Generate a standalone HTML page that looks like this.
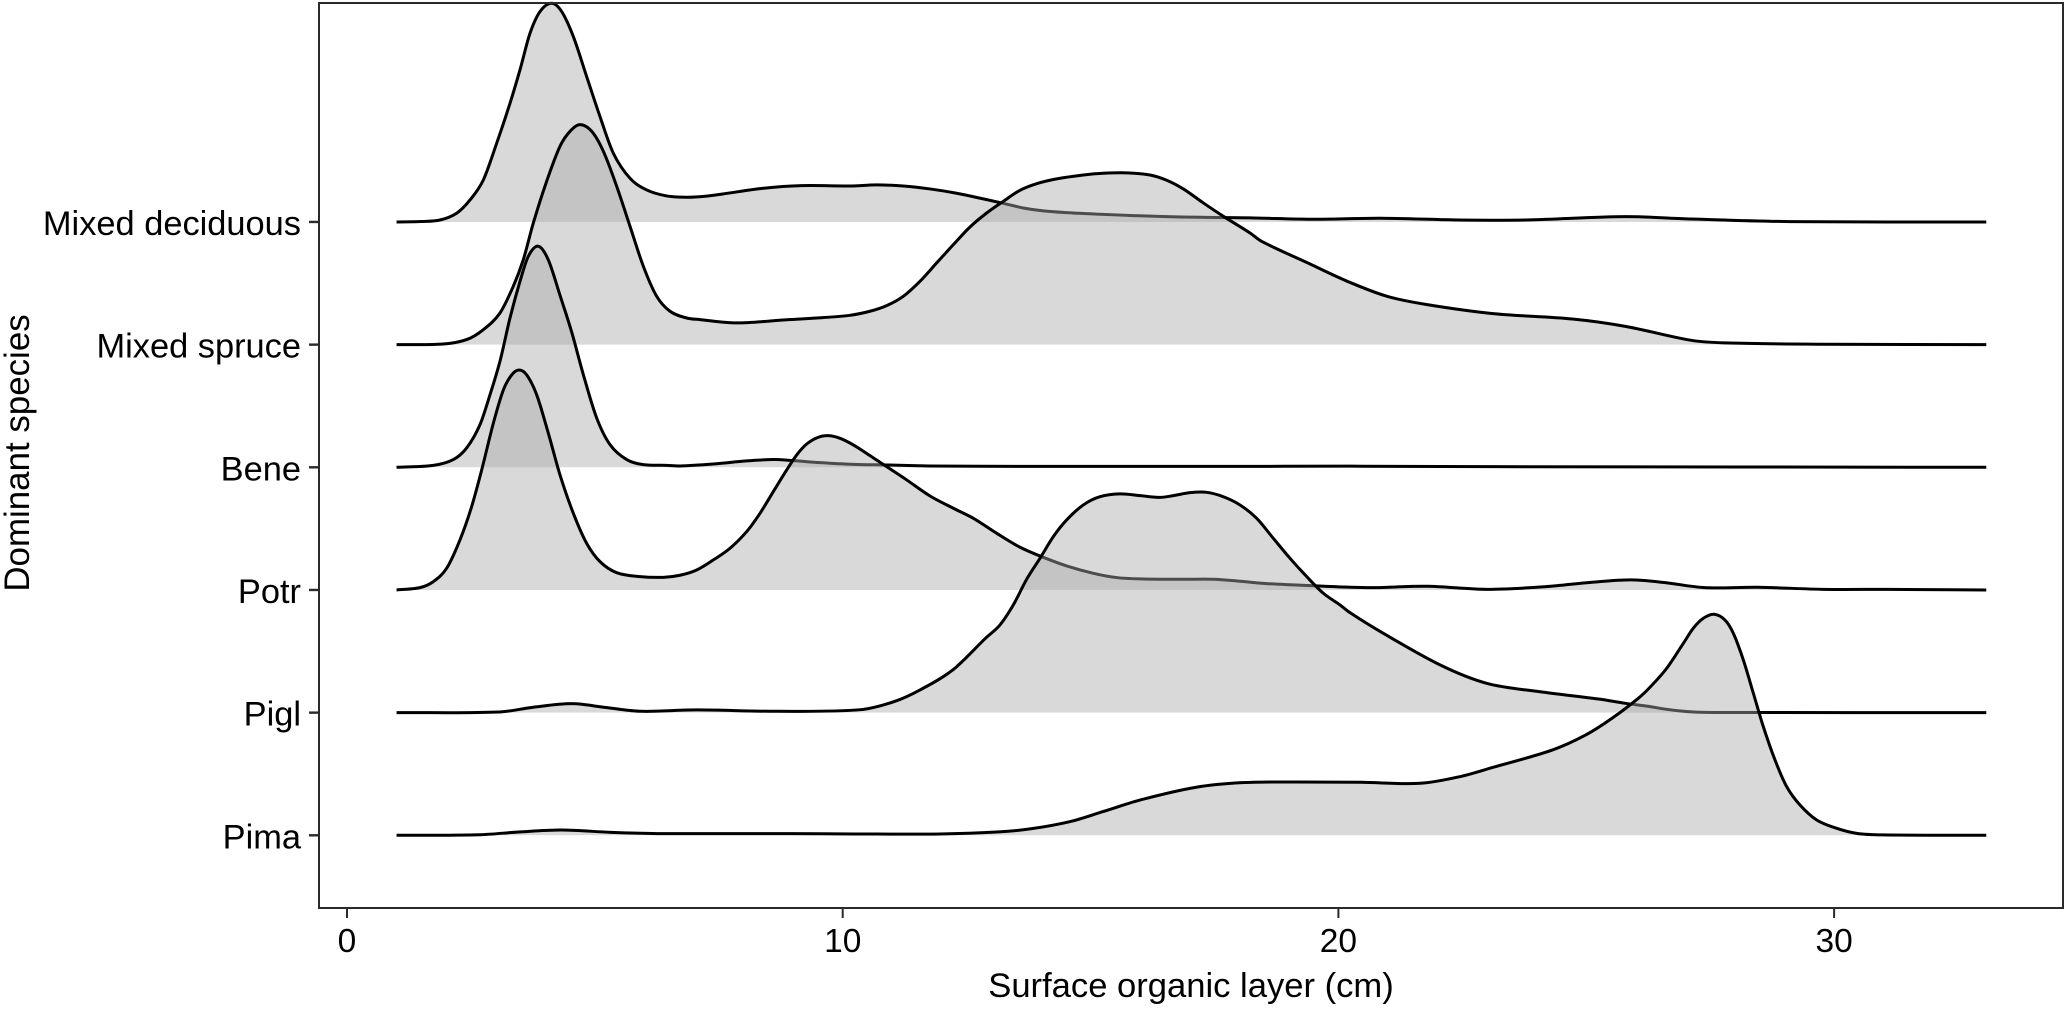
<!DOCTYPE html>
<html lang="en">
<head>
<meta charset="utf-8">
<title>Surface organic layer by dominant species</title>
<style>
html,body{margin:0;padding:0;background:#fff;width:2067px;height:1011px;overflow:hidden}
svg{display:block}
text{font-family:"Liberation Sans",Arial,sans-serif;fill:#000}
</style>
</head>
<body>
<svg id="chart" width="2067" height="1011" viewBox="0 0 2067 1011" xmlns="http://www.w3.org/2000/svg">
  <rect x="319" y="3" width="1744" height="905" fill="#fff"/>
  <g id="ridges"></g>
  <rect x="319" y="3" width="1744" height="905" fill="none" stroke="#2a2a2a" stroke-width="2"/>
  <g id="axes"></g>
  <text x="1191" y="997" font-size="34.6" text-anchor="middle">Surface organic layer (cm)</text>
  <text transform="translate(29,453) rotate(-90)" font-size="34.9" text-anchor="middle">Dominant species</text>
</svg>
<script>
const categories = ["Pima", "Pigl", "Potr", "Bene", "Mixed spruce", "Mixed deciduous"];
const xTickValues = [0, 10, 20, 30];

const mixedDeciduousCm = [1,1.5,1.876,2.212,2.481,2.75,3.019,3.288,3.49,3.692,3.893,4.129,4.331,4.566,4.835,5.104,5.373,5.709,6.045,6.449,6.852,7.2,7.58,8.38,9.17,10.147,10.685,11.223,11.761,12.299,12.837,13.24,13.644,14.047,14.518,15.191,15.863,16.536,17.208,18.217,19.52,20.85,22.45,23.79,25.79,27.12,29.12,33.07];
const mixedDeciduousDensity = [0,.004,.016,.071,.179,.342,.641,.967,1.24,1.538,1.715,1.783,1.715,1.511,1.185,.859,.56,.356,.261,.212,.201,.208,.228,.274,.296,.293,.302,.293,.269,.234,.188,.152,.114,.09,.076,.063,.052,.043,.038,.033,.022,.03,.016,.016,.043,.024,.003,0];

const mixedSpruceCm = [1,1.943,2.414,2.75,3.086,3.355,3.557,3.759,4.028,4.297,4.499,4.7,4.936,5.171,5.44,5.709,5.978,6.247,6.516,6.852,7.121,7.85,8.91,9.6,10.147,10.55,10.887,11.223,11.559,11.896,12.232,12.568,12.904,13.24,13.577,13.913,14.316,14.855,15.258,15.729,16.2,16.536,16.872,17.275,17.679,18.217,18.45,19.38,20.18,20.98,21.79,23.12,24.72,25.79,27.12,27.79,29.79,33.07];
const mixedSpruceDensity = [0,.005,.041,.122,.258,.476,.693,.992,1.332,1.617,1.739,1.793,1.739,1.576,1.291,.965,.639,.394,.272,.217,.204,.177,.204,.22,.239,.272,.318,.394,.516,.666,.815,.959,1.073,1.168,1.258,1.312,1.351,1.383,1.397,1.4,1.383,1.34,1.269,1.155,1.046,.91,.842,.666,.516,.394,.326,.253,.209,.149,.035,.014,.003,0];

const beneCm = [1,1.741,2.145,2.414,2.683,2.885,3.086,3.288,3.49,3.658,3.86,4.062,4.297,4.532,4.768,5.037,5.306,5.642,5.978,6.449,6.718,7.391,8.063,8.601,9.005,9.542,10.215,10.887,11.762,12.771,15.11,17.78,20.45,23.12,33.07];
const beneDensity = [0,.016,.063,.158,.348,.592,.864,1.217,1.516,1.72,1.802,1.69,1.402,1.103,.755,.402,.185,.063,.022,.016,.011,.027,.052,.063,.054,.038,.024,.019,.011,.008,.007,.007,.009,.005,0];

const potrCm = [1,1.472,1.741,2.01,2.279,2.515,2.717,2.952,3.154,3.322,3.47,3.625,3.826,4.062,4.297,4.566,4.835,5.104,5.44,5.91,6.382,6.718,7.054,7.391,7.727,8.063,8.332,8.601,8.87,9.072,9.274,9.509,9.711,9.946,10.215,10.551,10.887,11.291,11.762,12.232,12.636,13.107,13.578,14.047,14.518,15.056,15.527,15.997,16.871,17.477,18.015,18.553,19.562,20.234,20.72,21.79,22.99,24.19,25.12,25.92,26.59,27.39,28.46,29.79,31.12,33.07];
const potrDensity = [0,.019,.068,.177,.408,.68,.978,1.359,1.63,1.753,1.793,1.753,1.592,1.277,.938,.625,.38,.231,.141,.109,.103,.12,.163,.245,.34,.476,.625,.802,.978,1.101,1.19,1.245,1.258,1.236,1.182,1.095,1.005,.897,.766,.666,.584,.462,.348,.266,.196,.136,.101,.09,.087,.087,.071,.052,.033,.022,.019,.03,.005,.027,.063,.082,.06,.019,.022,.005,.005,0];

const piglCm = [1,3.07,3.74,4.53,5.2,5.93,7.05,8.64,10.36,11.04,11.56,12.22,12.88,13.173,13.442,13.711,13.98,14.249,14.518,14.854,15.19,15.594,15.997,16.401,16.67,17.006,17.342,17.679,18.015,18.351,18.687,19.024,19.36,19.696,20.032,20.234,20.85,22.05,22.99,24.05,25.25,25.79,26.29,26.62,26.96,27.3,28,33.07];
const piglDensity = [0,.005,.043,.073,.043,.011,.022,.011,.024,.09,.185,.348,.606,.715,.878,1.087,1.258,1.435,1.571,1.693,1.76,1.783,1.769,1.755,1.769,1.793,1.796,1.76,1.693,1.584,1.421,1.258,1.109,.973,.878,.815,.66,.389,.239,.171,.111,.076,.049,.027,.011,.003,.001,0];

const pimaCm = [1,2.68,3.47,4.33,5.33,6.26,8.91,10.23,11.96,13.15,13.78,14.58,15.25,16.05,17.12,18.05,19.12,20.45,21.65,22.45,23.12,24.32,24.99,25.52,26.05,26.286,26.622,26.959,27.16,27.362,27.577,27.799,27.967,28.169,28.371,28.572,28.808,29.043,29.312,29.649,30.052,30.456,30.993,33.07];
const pimaDensity = [0,.005,.027,.043,.024,.014,.014,.011,.011,.028,.052,.111,.193,.293,.391,.429,.435,.432,.424,.478,.554,.696,.818,.954,1.117,1.207,1.361,1.565,1.688,1.769,1.802,1.755,1.647,1.429,1.158,.886,.614,.397,.247,.125,.057,.016,.003,0];

const seriesCm = [pimaCm, piglCm, potrCm, beneCm, mixedSpruceCm, mixedDeciduousCm];
const seriesDensity = [pimaDensity, piglDensity, potrDensity, beneDensity, mixedSpruceDensity, mixedDeciduousDensity];

const NS = "http://www.w3.org/2000/svg";
const xScale = v => 347 + v * 49.57;
const rowY = i => 835.3 - i * 122.67;
const yScale = (i, d) => rowY(i) - d * 122.67;

function smoothPath(px, py) {
  let d = "M" + px[0].toFixed(2) + " " + py[0].toFixed(2);
  for (let i = 0; i < px.length - 1; i++) {
    const a = Math.max(i - 1, 0), b = Math.min(i + 2, px.length - 1);
    const h = px[i + 1] - px[i];
    const s1 = (py[i + 1] - py[a]) / ((px[i + 1] - px[a]) || 1);
    const s2 = (py[b] - py[i]) / ((px[b] - px[i]) || 1);
    const c1x = px[i] + h / 3;
    const c1y = py[i] + s1 * h / 3;
    const c2x = px[i + 1] - h / 3;
    const c2y = py[i + 1] - s2 * h / 3;
    d += "C" + c1x.toFixed(2) + " " + c1y.toFixed(2) + " " + c2x.toFixed(2) + " " + c2y.toFixed(2) + " " + px[i + 1].toFixed(2) + " " + py[i + 1].toFixed(2);
  }
  return d;
}

const slug = s => s.toLowerCase().replace(/\s+/g, "-");
const ridges = document.getElementById("ridges");
const axes = document.getElementById("axes");

for (let i = categories.length - 1; i >= 0; i--) {
  const px = seriesCm[i].map(xScale);
  const py = seriesDensity[i].map(d => yScale(i, d));
  const line = smoothPath(px, py);
  const g = document.createElementNS(NS, "g");
  
  
  const area = document.createElementNS(NS, "path");
  
  
  area.setAttribute("d", line + "L" + px[px.length - 1].toFixed(2) + " " + rowY(i).toFixed(2) + "L" + px[0].toFixed(2) + " " + rowY(i).toFixed(2) + "Z");
  area.setAttribute("fill", "#aaaaaa");
  area.setAttribute("fill-opacity", "0.447");
  g.appendChild(area);
  const stroke = document.createElementNS(NS, "path");
  
  
  stroke.setAttribute("d", line);
  stroke.setAttribute("fill", "none");
  stroke.setAttribute("stroke", "#000");
  stroke.setAttribute("stroke-width", "3");
  stroke.setAttribute("stroke-linejoin", "round");
  g.appendChild(stroke);
  ridges.appendChild(g);
}

categories.forEach((c, i) => {
  const tick = document.createElementNS(NS, "line");
  
  
  tick.setAttribute("x1", 309);
  tick.setAttribute("x2", 319);
  tick.setAttribute("y1", rowY(i));
  tick.setAttribute("y2", rowY(i));
  tick.setAttribute("stroke", "#2a2a2a");
  tick.setAttribute("stroke-width", "2.4");
  axes.appendChild(tick);
  const label = document.createElementNS(NS, "text");
  
  
  label.setAttribute("x", 301);
  label.setAttribute("y", rowY(i) + 13);
  label.setAttribute("font-size", "34.4");
  label.setAttribute("text-anchor", "end");
  label.textContent = c;
  axes.appendChild(label);
});

xTickValues.forEach(v => {
  const tick = document.createElementNS(NS, "line");
  
  
  tick.setAttribute("x1", xScale(v));
  tick.setAttribute("x2", xScale(v));
  tick.setAttribute("y1", 908);
  tick.setAttribute("y2", 918);
  tick.setAttribute("stroke", "#2a2a2a");
  tick.setAttribute("stroke-width", "2");
  axes.appendChild(tick);
  const label = document.createElementNS(NS, "text");
  
  
  label.setAttribute("x", xScale(v));
  label.setAttribute("y", 952);
  label.setAttribute("font-size", "33.5");
  label.setAttribute("text-anchor", "middle");
  label.textContent = v;
  axes.appendChild(label);
});
</script>
</body>
</html>
